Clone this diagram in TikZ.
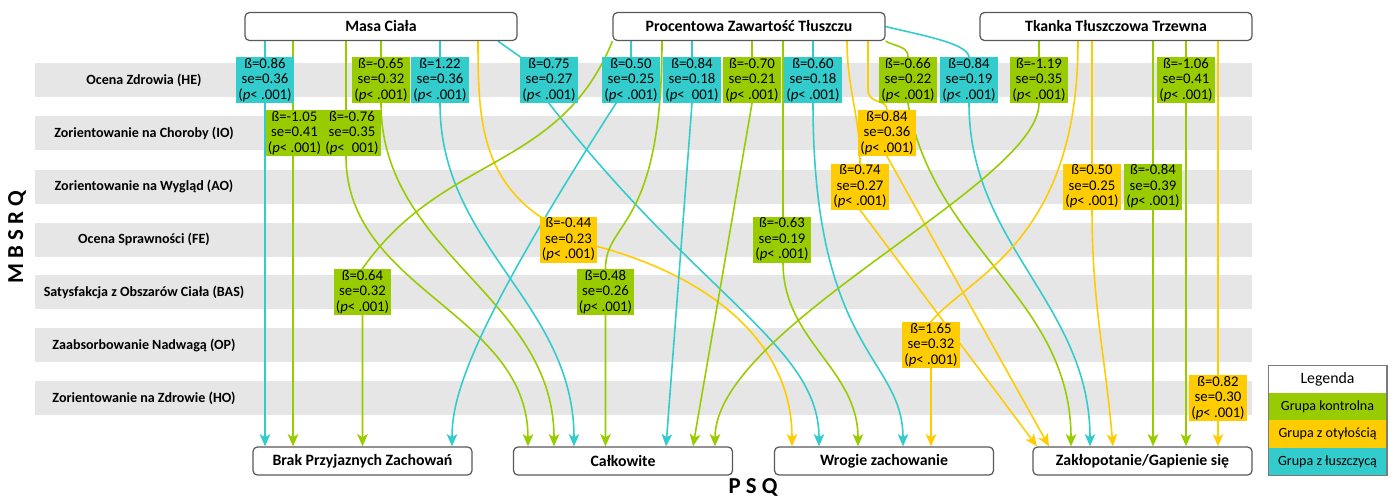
\documentclass[tikz,border=0pt]{standalone}
\usepackage{fontspec}
\setmainfont{Carlito}
\usetikzlibrary{arrows.meta, positioning}
\definecolor{kontrol}{HTML}{99CC00}
\definecolor{otylosc}{HTML}{FFCC00}
\definecolor{luszcz}{HTML}{33CCCC}
\definecolor{pasek}{HTML}{E6E6E6}
\definecolor{ramka}{HTML}{595959}
\pgfdeclarelayer{bands}
\pgfdeclarelayer{lines}
\pgfsetlayers{bands,lines,main}

\begin{document}
\begin{tikzpicture}[x=0.02cm, y=-0.02cm,
    predictor/.style={draw=ramka, fill=white, rounded corners=2.5pt, line width=0.7pt,
        minimum width=5.44cm, minimum height=0.56cm, inner sep=0pt,
        font=\fontsize{9}{10}\selectfont\bfseries},
    outcome/.style={predictor, minimum width=4.38cm},
    coef/.style={minimum width=1.15cm, minimum height=0.92cm, inner sep=0pt,
        align=center, font=\fontsize{8.4}{8.8}\selectfont},
    kcoef/.style={coef, fill=kontrol},
    ocoef/.style={coef, fill=otylosc},
    lcoef/.style={coef, fill=luszcz},
    kline/.style={draw=kontrol, line width=0.9pt, -{Stealth[length=7pt, width=6pt, inset=1.8pt]}},
    oline/.style={draw=otylosc, line width=0.9pt, -{Stealth[length=7pt, width=6pt, inset=1.8pt]}},
    lline/.style={draw=luszcz, line width=0.9pt, -{Stealth[length=7pt, width=6pt, inset=1.8pt]}},
    rowlabel/.style={font=\fontsize{8}{9}\selectfont\bfseries},
    axistitle/.style={font=\fontsize{13}{14}\selectfont\bfseries},
    legitem/.style={minimum width=2.38cm, minimum height=0.55cm, inner sep=0pt, outer sep=0pt,
        font=\fontsize{8}{9}\selectfont}]
    \useasboundingbox (0,0) rectangle (1395,498);

    % Grey rows of the MBSRQ scales
    \begin{pgfonlayer}{bands}
        \fill[pasek] (35,63) rectangle (1252,97);
        \fill[pasek] (35,116) rectangle (1252,150);
        \fill[pasek] (35,169.5) rectangle (1252,203.5);
        \fill[pasek] (35,222.5) rectangle (1252,256.5);
        \fill[pasek] (35,275) rectangle (1252,309);
        \fill[pasek] (35,328) rectangle (1252,362);
        \fill[pasek] (35,381) rectangle (1252,415);
    \end{pgfonlayer}
    \node[rowlabel] (he) at (144,80) {Ocena Zdrowia (HE)};
    \node[rowlabel] (io) at (144,133) {Zorientowanie na Choroby (IO)};
    \node[rowlabel] (ao) at (144,186.5) {Zorientowanie na Wygląd (AO)};
    \node[rowlabel] (fe) at (144,239.5) {Ocena Sprawności (FE)};
    \node[rowlabel] (bas) at (144,292) {Satysfakcja z Obszarów Ciała (BAS)};
    \node[rowlabel] (op) at (144,345) {Zaabsorbowanie Nadwagą (OP)};
    \node[rowlabel] (ho) at (144,398) {Zorientowanie na Zdrowie (HO)};
    \node[axistitle, rotate=90] (mbsrq) at (17,237) {M B S R Q};

    % Predictors on top, PSQ scales at the bottom
    \node[predictor] (masa) at (381,26.5) {Masa Ciała};
    \node[predictor] (procent) at (749,26.5) {Procentowa Zawartość Tłuszczu};
    \node[predictor] (tkanka) at (1116,26.5) {Tkanka Tłuszczowa Trzewna};
    \node[outcome] (brak) at (362.5,461) {Brak Przyjaznych Zachowań};
    \node[outcome] (calk) at (623,461) {Całkowite};
    \node[outcome] (wrogie) at (884,461) {Wrogie zachowanie};
    \node[outcome] (zaklop) at (1142.5,461) {Zakłopotanie/Gapienie się};
    \node[axistitle] (psq) at (753,487) {P S Q};

    % Coefficients, row HE
    \node[lcoef] (he1) at (265,80) {ß=0.86\\se=0.36\\(\textit{p}< .001)};
    \node[kcoef] (he2) at (381,80) {ß=-0.65\\se=0.32\\(\textit{p}< .001)};
    \node[lcoef] (he3) at (440,80) {ß=1.22\\se=0.36\\(\textit{p}< .001)};
    \node[lcoef] (he4) at (549,80) {ß=0.75\\se=0.27\\(\textit{p}< .001)};
    \node[lcoef] (he5) at (631,80) {ß=0.50\\se=0.25\\(\textit{p}< .001)};
    \node[lcoef] (he6) at (692,80) {ß=0.84\\se=0.18\\(\textit{p}< \phantom{.}001)};
    \node[kcoef] (he7) at (752,80) {ß=-0.70\\se=0.21\\(\textit{p}< .001)};
    \node[lcoef] (he8) at (813,80) {ß=0.60\\se=0.18\\(\textit{p}< .001)};
    \node[kcoef] (he9) at (908,80) {ß=-0.66\\se=0.22\\(\textit{p}< .001)};
    \node[lcoef] (he10) at (969,80) {ß=0.84\\se=0.19\\(\textit{p}< .001)};
    \node[kcoef] (he11) at (1039,80) {ß=-1.19\\se=0.35\\(\textit{p}< .001)};
    \node[kcoef] (he12) at (1186,80) {ß=-1.06\\se=0.41\\(\textit{p}< .001)};

    % Coefficients, rows IO to HO
    \node[kcoef] (io1) at (294.5,133) {ß=-1.05\\se=0.41\\(\textit{p}< .001)};
    \node[kcoef] (io2) at (352,133) {ß=-0.76\\se=0.35\\(\textit{p}< \phantom{.}001)};
    \node[ocoef] (io3) at (887,133) {ß=0.84\\se=0.36\\(\textit{p}< .001)};
    \node[ocoef] (ao1) at (860,186.5) {ß=0.74\\se=0.27\\(\textit{p}< .001)};
    \node[ocoef] (ao2) at (1092,186.5) {ß=0.50\\se=0.25\\(\textit{p}< .001)};
    \node[kcoef] (ao3) at (1153,186.5) {ß=-0.84\\se=0.39\\(\textit{p}< .001)};
    \node[ocoef] (fe1) at (568.5,239.5) {ß=-0.44\\se=0.23\\(\textit{p}< .001)};
    \node[kcoef] (fe2) at (782,239.5) {ß=-0.63\\se=0.19\\(\textit{p}< .001)};
    \node[kcoef] (bas1) at (362.5,292) {ß=0.64\\se=0.32\\(\textit{p}< .001)};
    \node[kcoef] (bas2) at (605.5,292) {ß=0.48\\se=0.26\\(\textit{p}< .001)};
    \node[ocoef] (op1) at (931,345) {ß=1.65\\se=0.32\\(\textit{p}< .001)};
    \node[ocoef] (ho1) at (1218,398) {ß=0.82\\se=0.30\\(\textit{p}< .001)};

    \begin{pgfonlayer}{lines}
        % Masa Ciała
        \draw[lline] (masa.south -| he1) -- (brak.north -| he1);
        \draw[kline] (293,0 |- masa.south) -- (293,0 |- brak.north);
        \draw[kline] (346,0 |- masa.south) -- (346,0 |- io2.south) to[out=-90, in=90] (528,0 |- calk.north);
        \draw[kline] (masa.south -| he2) -- (he2.south) to[out=-90, in=90] (554,0 |- calk.north);
        \draw[lline] (masa.south -| he3) -- (he3.south) to[out=-90, in=90] (574,0 |- calk.north);
        \draw[oline] (478,0 |- masa.south) to[out=-90, in=145] (fe1.north west) -- ([yshift=-4pt]fe1.east)
            to[out=-15, in=90] (792,0 |- wrogie.north);
        \draw[lline] (498,0 |- masa.south) -- (he4.north west) -- (he4.south)
            to[out=-52, in=90, out distance=142pt, in distance=57pt] (819,0 |- wrogie.north);

        % Procentowa Zawartość Tłuszczu
        \draw[kline] (procent.south west) to[out=-112, in=55, out distance=80pt, in distance=80pt] (bas1.north)
            -- (brak.north -| bas1);
        \draw[lline] (procent.south -| he5) -- (he5.center)
            to[out=-123, in=90, out distance=171pt, in distance=28pt] (452,0 |- brak.north);
        \draw[kline] (662,0 |- procent.south) to[out=-90, in=90, out distance=108pt, in distance=28pt] (bas2.north)
            -- (calk.north -| bas2);
        \draw[lline] (procent.south -| he6) -- (he6.south) -- (666,0 |- calk.north);
        \draw[kline] (procent.south -| he7) -- (he7.south) -- (693,0 |- calk.north);
        \draw[kline] (783,0 |- procent.south) -- (783,0 |- fe2.south) to[out=-90, in=90] (858,0 |- wrogie.north);
        \draw[lline] (procent.south -| he8) -- (he8.south)
            to[out=-90, in=90, out distance=142pt, in distance=51pt] (903,0 |- wrogie.north);
        \draw[oline] (847,0 |- procent.south) to[out=-90, in=90] (ao1.north) -- (ao1.south) -- (1037,0 |- zaklop.north);
        \draw[oline] (868,0 |- procent.south) -- (868,90) to[out=-90, in=90, out distance=8pt, in distance=6pt] (io3.north)
            -- (io3.south) -- (1049,0 |- zaklop.north);
        \draw[kline] (procent.south east) to[out=-30, in=90] (he9.north) -- (he9.south)
            to[out=-80, in=90] (1071,0 |- zaklop.north);
        \draw[lline] (procent.east) to[out=-14, in=100, out distance=20pt, in distance=8pt] (he10.north)
            -- (he10.south) to[out=-90, in=90] (1090,0 |- zaklop.north);

        % Tkanka Tłuszczowa Trzewna
        \draw[kline] (tkanka.south -| he11) -- (he11.south)
            to[out=-90, in=90, out distance=46pt, in distance=68pt] (715,0 |- calk.north);
        \draw[oline] (1078,0 |- tkanka.south) to[out=-90, in=50, out distance=114pt, in distance=34pt] (op1.north)
            -- (wrogie.north -| op1);
        \draw[oline] (tkanka.south -| ao2) -- (ao2.south) to[out=-90, in=95] (1113,0 |- zaklop.north);
        \draw[kline] (tkanka.south -| ao3) -- (zaklop.north -| ao3);
        \draw[kline] (tkanka.south -| he12) -- (zaklop.north -| he12);
        \draw[oline] (tkanka.south -| ho1) -- (zaklop.north -| ho1);
    \end{pgfonlayer}

    % Legend
    \node[legitem, fill=white, font=\fontsize{9}{10}\selectfont] (legenda) at (1327.5,379) {Legenda};
    \node[legitem, fill=kontrol, below=0pt of legenda] (legk) {Grupa kontrolna};
    \node[legitem, fill=otylosc, below=0pt of legk] (lego) {Grupa z otyłością};
    \node[legitem, fill=luszcz, below=0pt of lego] (legl) {Grupa z łuszczycą};
    \draw[ramka!80, line width=0.6pt] (legenda.north west) rectangle (legl.south east);
\end{tikzpicture}
\end{document}
